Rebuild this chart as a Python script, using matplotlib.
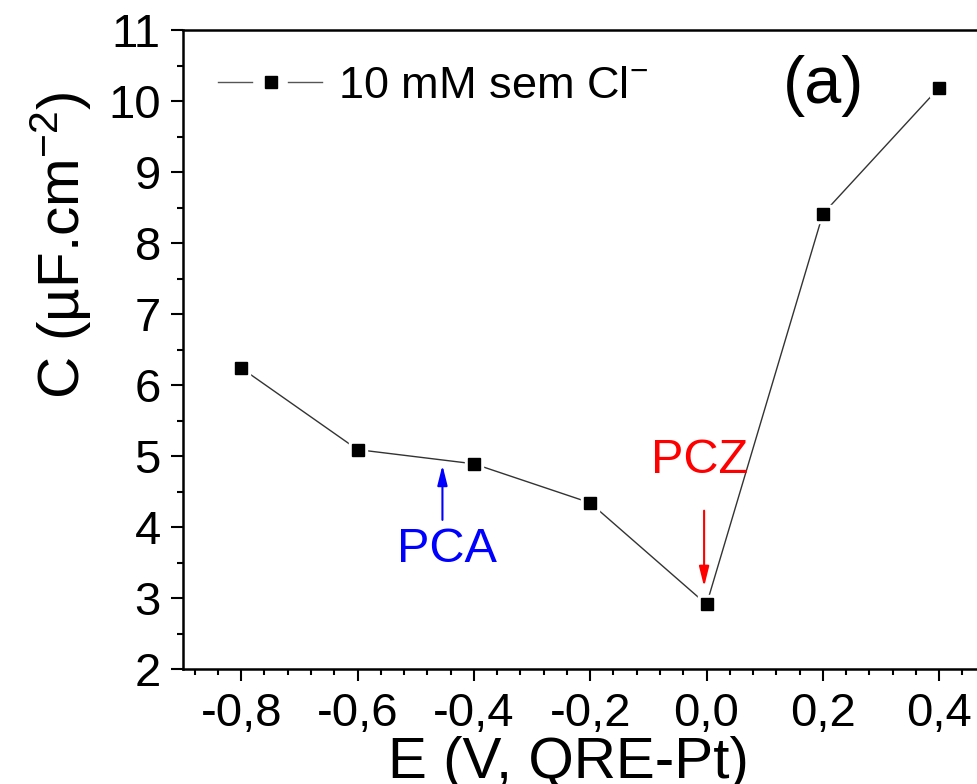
import matplotlib
matplotlib.use("Agg")
import matplotlib.pyplot as plt
from matplotlib.ticker import MultipleLocator, AutoMinorLocator, FuncFormatter
from matplotlib.lines import Line2D

plt.rcParams['font.family'] = ['Liberation Sans', 'DejaVu Sans']
plt.rcParams['mathtext.fontset'] = 'custom'
plt.rcParams['mathtext.rm'] = 'Liberation Sans'
plt.rcParams['mathtext.it'] = 'Liberation Sans:italic'

# data
potential = [-0.8, -0.6, -0.4, -0.2, 0.0, 0.2, 0.4]
capacitance = [6.24, 5.09, 4.89, 4.34, 2.91, 8.41, 10.19]
series_label = '10 mM sem Cl$^{-}$'

W, H = 978, 784
fig = plt.figure(figsize=(W / 100, H / 100), dpi=100)
# axes runs off the right edge, as in the cropped original
ax = fig.add_axes([183 / W, 115 / H, 814.4 / W, 639 / H])

ax.plot(potential, capacitance, color='#333333', lw=1.0, zorder=2)
ax.plot(potential, capacitance, 's', color='white', ms=13, zorder=3)
ax.plot(potential, capacitance, 's', color='black', ms=8.5, zorder=4)

ax.set_xlim(-0.9, 0.5)
ax.set_ylim(2, 11)

ax.xaxis.set_major_locator(MultipleLocator(0.2))
ax.xaxis.set_minor_locator(AutoMinorLocator(5))
ax.yaxis.set_major_locator(MultipleLocator(1))
ax.yaxis.set_minor_locator(AutoMinorLocator(2))


def comma_fmt(v, pos):
    if abs(v) < 1e-9:
        v = 0.0
    return '{:.1f}'.format(v).replace('.', ',')


ax.xaxis.set_major_formatter(FuncFormatter(comma_fmt))

ax.tick_params(which='both', direction='out', top=False, right=False,
               width=1.5, labelsize=34)
ax.tick_params(which='major', length=8.5, pad=7.5)
ax.tick_params(which='minor', length=4.5)
ax.tick_params(axis='x', which='major', pad=8)
for sp in ax.spines.values():
    sp.set_linewidth(1.8)

# axis labels (placed by hand, they are off-centre in the original;
# the x label is clipped by the bottom edge like the source image)
fig.text(568 / W, 6 / H, 'E (V, QRE-Pt)', fontsize=42,
         ha='center', va='baseline')
fig.text(80 / W, 1 - 245 / H, 'C (µF.cm$^{-2}$)', fontsize=42,
         rotation=90, rotation_mode='anchor', ha='center', va='baseline')

# legend drawn Origin-style: line - marker - line, with gaps
ly = 1 - 81.7 / H
fig.add_artist(Line2D([218 / W, 252 / W], [ly, ly], color='#555555', lw=1.0))
fig.add_artist(Line2D([288 / W, 322 / W], [ly, ly], color='#555555', lw=1.0))
fig.add_artist(Line2D([271 / W], [ly], ls='none', marker='s',
                      color='black', ms=8.5))
fig.text(338 / W, 1 - 98.3 / H, series_label, fontsize=32.5,
         ha='left', va='baseline')

ax.text(0.2017, 9.968, '(a)', fontsize=48, ha='center', va='baseline')

# PCA / PCZ markers
ax.annotate('', xy=(-0.454, 4.87), xytext=(-0.454, 4.10),
            arrowprops=dict(arrowstyle='-|>,head_length=0.6,head_width=0.15',
                            color='blue', lw=1.5, mutation_scale=20,
                            shrinkA=0, shrinkB=0))
ax.text(-0.4455, 3.51, 'PCA', color='blue', fontsize=35,
        ha='center', va='baseline')
ax.annotate('', xy=(-0.0042, 3.16), xytext=(-0.0042, 4.23),
            arrowprops=dict(arrowstyle='-|>,head_length=0.6,head_width=0.15',
                            color='red', lw=1.5, mutation_scale=20,
                            shrinkA=0, shrinkB=0))
ax.text(-0.0118, 4.756, 'PCZ', color='red', fontsize=35,
        ha='center', va='baseline')

fig.savefig('out.png', dpi=100)
